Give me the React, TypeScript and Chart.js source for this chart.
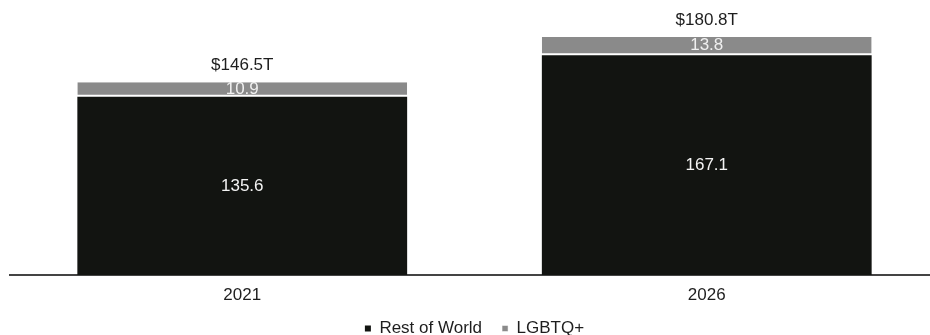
import React, { useEffect, useRef } from "react";
import { Chart, registerables } from "chart.js";

Chart.register(...registerables);

const categories = ["2021", "2026"];
const restOfWorld = [135.6, 167.1];
const lgbtq = [10.9, 13.8];
const totalLabels = ["$146.5T", "$180.8T"];
const seriesNames = ["Rest of World", "LGBTQ+"];

const FONT = "'Liberation Sans', Arial, Helvetica, sans-serif";

const labelPlugin = {
  id: "valueLabels",
  afterDatasetsDraw(chart: any) {
    const ctx = chart.ctx;
    ctx.save();
    ctx.font = `17px ${FONT}`;
    ctx.textAlign = "center";
    ctx.textBaseline = "middle";
    chart.data.datasets.forEach((ds: any, di: number) => {
      const meta = chart.getDatasetMeta(di);
      meta.data.forEach((el: any, i: number) => {
        const v = ds.data[i];
        const cy = di === 1 ? (el.y + el.base - 2) / 2 + 0.5 : (el.y + el.base) / 2;
        ctx.fillStyle = di === 1 ? "#f0f0f0" : "#f4f4f4";
        ctx.fillText(v.toFixed(1), el.x, cy);
      });
    });
    const top = chart.getDatasetMeta(1);
    top.data.forEach((el: any, i: number) => {
      ctx.fillStyle = "#1e1e1e";
      ctx.fillText(totalLabels[i], el.x, el.y - 17);
    });
    ctx.restore();
  },
};

export default function App() {
  const ref = useRef<HTMLCanvasElement>(null);
  useEffect(() => {
    if (!ref.current) return;
    const chart = new Chart(ref.current, {
      type: "bar",
      data: {
        labels: categories,
        datasets: [
          {
            label: seriesNames[0],
            data: restOfWorld,
            backgroundColor: "#121411",
            borderWidth: 0,
            barPercentage: 0.71,
            categoryPercentage: 1,
          },
          {
            label: seriesNames[1],
            data: lgbtq,
            backgroundColor: "#8a8a8a",
            borderColor: "#ffffff",
            borderWidth: { top: 0, left: 0, right: 0, bottom: 2 },
            borderSkipped: false,
            barPercentage: 0.71,
            categoryPercentage: 1,
          },
        ],
      },
      options: {
        animation: false,
        responsive: false,
        maintainAspectRatio: false,
        devicePixelRatio: 1,
        layout: { padding: { left: 10, right: 1, top: 12, bottom: 0 } },
        plugins: {
          tooltip: { enabled: false },
          legend: {
            position: "bottom",
            labels: {
              boxWidth: 6,
              boxHeight: 6,
              padding: 20,
              color: "#1e1e1e",
              font: { family: FONT, size: 17 },
            },
          },
        },
        scales: {
          x: {
            stacked: true,
            grid: { display: false, drawTicks: false },
            border: { display: true, color: "#444444", width: 2 },
            ticks: {
              color: "#1e1e1e",
              padding: 10,
              font: { family: FONT, size: 17 },
            },
            afterFit(scale: any) {
              scale.height = 25;
            },
          },
          y: {
            stacked: true,
            display: false,
            min: 0,
            max: 200,
          },
        },
      },
      plugins: [labelPlugin],
    } as any);
    return () => chart.destroy();
  }, []);
  return (
    <div
      style={{
        position: "fixed",
        left: 0,
        top: 0,
        width: 930,
        height: 335,
        overflow: "hidden",
        background: "#ffffff",
      }}
    >
      <canvas ref={ref} width={940} height={347} style={{ display: "block", width: 940, height: 347 }} />
    </div>
  );
}
